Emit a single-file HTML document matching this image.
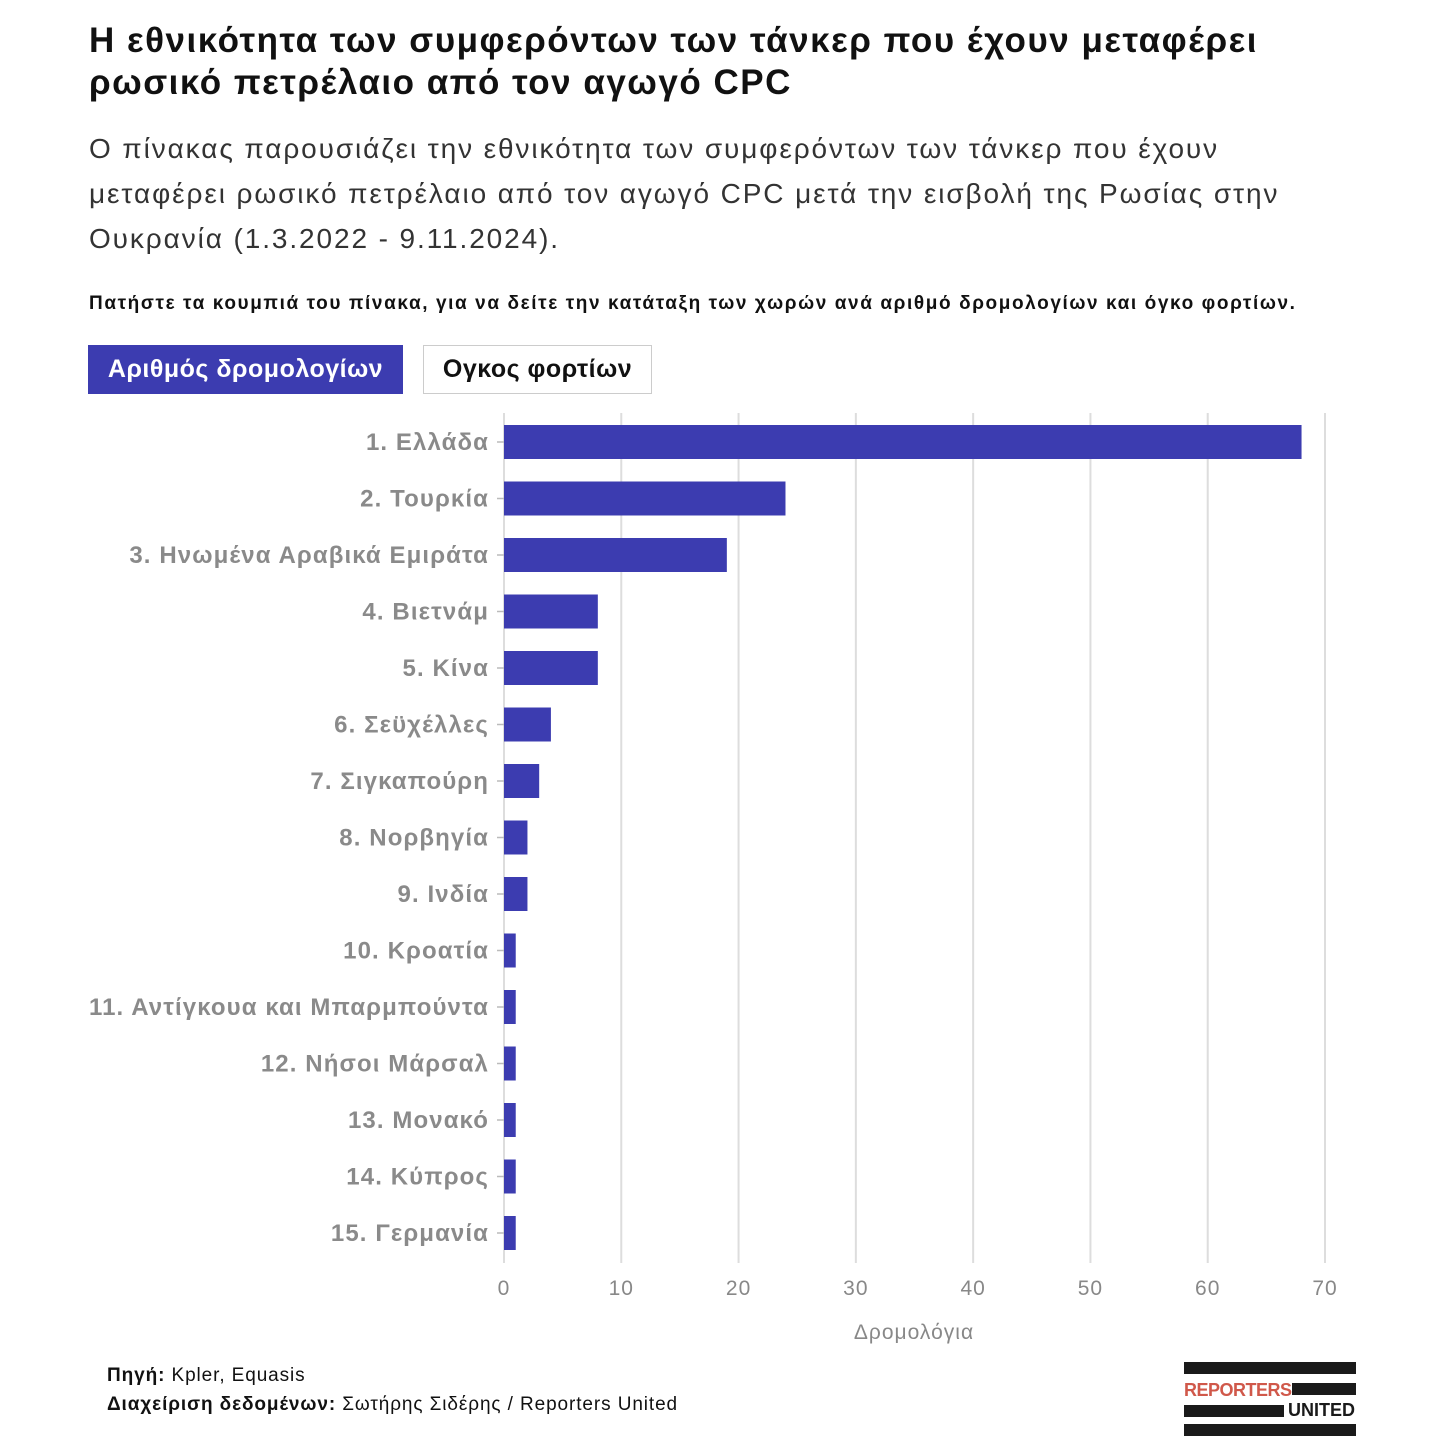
<!DOCTYPE html>
<html><head><meta charset="utf-8">
<style>
body{margin:0;width:1440px;height:1440px;background:#fff;font-family:"Liberation Sans","DejaVu Sans",sans-serif;position:relative;overflow:hidden;color:#111}
.a{position:absolute;white-space:nowrap}
</style></head><body>
<div class="a" style="left:89px;top:20px;font-size:35px;font-weight:bold;line-height:42px;color:#111;letter-spacing:1.5px">Η εθνικότητα των συμφερόντων των τάνκερ που έχουν μεταφέρει<br>ρωσικό πετρέλαιο από τον αγωγό CPC</div>
<div class="a" style="left:89px;top:126px;font-size:28px;line-height:45px;color:#333;letter-spacing:1.9px">Ο πίνακας παρουσιάζει την εθνικότητα των συμφερόντων των τάνκερ που έχουν<br>μεταφέρει ρωσικό πετρέλαιο από τον αγωγό CPC μετά την εισβολή της Ρωσίας στην<br>Ουκρανία (1.3.2022 - 9.11.2024).</div>
<div class="a" style="left:89px;top:293px;font-size:19px;font-weight:bold;color:#111;letter-spacing:1.6px">Πατήστε τα κουμπιά του πίνακα, για να δείτε την κατάταξη των χωρών ανά αριθμό δρομολογίων και όγκο φορτίων.</div>
<div class="a" style="left:88px;top:345px;width:315px;height:49px;background:#3c3cb0;color:#fff;font-size:25px;font-weight:bold;line-height:49px;text-align:center;letter-spacing:0.5px">Αριθμός δρομολογίων</div>
<div class="a" style="left:423px;top:345px;width:227px;height:47px;border:1px solid #ccc;color:#111;font-size:25px;font-weight:bold;line-height:47px;text-align:center;letter-spacing:0.5px">Ογκος φορτίων</div>
<svg class="a" style="left:0;top:0" width="1440" height="1440">
<g id="g"></g></svg>
<div class="a" style="left:107px;top:1361px;font-size:19px;line-height:29px;color:#111;letter-spacing:0.9px"><b>Πηγή:</b> Kpler, Equasis<br><b>Διαχείριση δεδομένων:</b> Σωτήρης Σιδέρης / Reporters United</div>
<div class="a" style="left:1184px;top:1362px;width:172px;height:74px">
<div class="a" style="left:0;top:0;width:172px;height:12px;background:#1a1a1a"></div>
<div class="a" style="left:0;top:18px;font-size:18px;font-weight:bold;color:#d0584a;letter-spacing:-0.5px">REPORTERS</div>
<div class="a" style="left:108px;top:21px;width:64px;height:12px;background:#1a1a1a"></div>
<div class="a" style="left:0;top:43px;width:100px;height:12px;background:#1a1a1a"></div>
<div class="a" style="left:104px;top:38px;font-size:18px;font-weight:bold;color:#1a1a1a">UNITED</div>
<div class="a" style="left:0;top:62px;width:172px;height:12px;background:#1a1a1a"></div>
</div>
<script>
const categories=["1. Ελλάδα","2. Τουρκία","3. Ηνωμένα Αραβικά Εμιράτα","4. Βιετνάμ","5. Κίνα","6. Σεϋχέλλες","7. Σιγκαπούρη","8. Νορβηγία","9. Ινδία","10. Κροατία","11. Αντίγκουα και Μπαρμπούντα","12. Νήσοι Μάρσαλ","13. Μονακό","14. Κύπρος","15. Γερμανία"];
const values=[68,24,19,8,8,4,3,2,2,1,1,1,1,1,1];
const ticks=[0,10,20,30,40,50,60,70];
const axisTitle="Δρομολόγια";
const ns="http://www.w3.org/2000/svg",g=document.getElementById('g');
const x=v=>504+v*(1325-504)/70;
const y=i=>442+i*56.5;
function mk(t,a,txt){const e=document.createElementNS(ns,t);for(const k in a)e.setAttribute(k,a[k]);if(txt!=null)e.textContent=txt;g.appendChild(e);return e;}
ticks.forEach(t=>{
 const l=mk('line',{x1:x(t),x2:x(t),y1:413,y2:1263,stroke:'#ddd','stroke-width':2});
 
 
 const tx=mk('text',{x:x(t),y:1295,'text-anchor':'middle','font-size':21,fill:'#888','letter-spacing':1},t);
 
 
});
categories.forEach((c,i)=>{
 const tk=mk('line',{x1:497,x2:504,y1:y(i),y2:y(i),stroke:'#bbb','stroke-width':1.5});
 
 
 const b=mk('rect',{x:x(0),y:y(i)-17,width:x(values[i])-x(0),height:34,fill:'#3c3cb0'});
 
 
 const t=mk('text',{x:489,y:y(i)+8,'text-anchor':'end','font-size':24,'font-weight':'bold',fill:'#8a8a8a','letter-spacing':1.1},c);
 
 
});
const at=mk('text',{x:914,y:1339,'text-anchor':'middle','font-size':21,fill:'#888','letter-spacing':1},axisTitle);


</script>
</body></html>
